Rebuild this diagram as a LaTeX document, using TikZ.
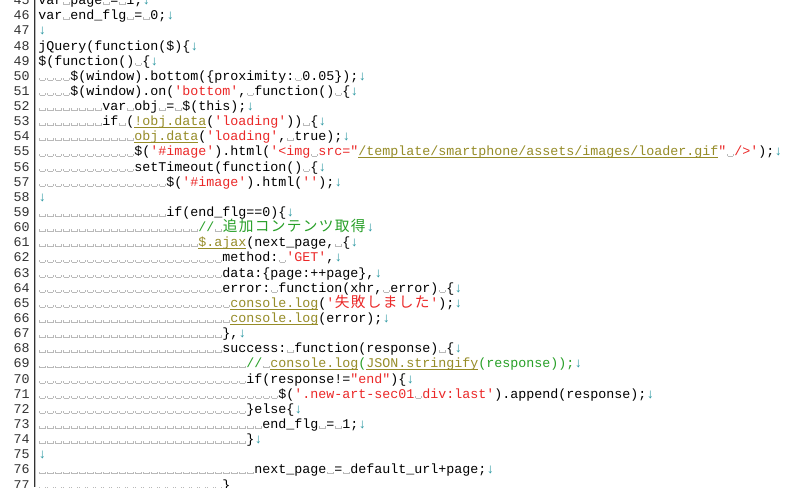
\documentclass[tikz,border=0pt]{standalone}
\usepackage{fontspec}
\newfontfamily\code{Liberation Mono}
\newfontfamily\cjk{Noto Sans CJK JP}
\definecolor{strc}{RGB}{235,40,40}
\definecolor{fnc}{RGB}{150,140,40}
\definecolor{cmc}{RGB}{40,160,40}
\definecolor{nlc}{RGB}{40,150,160}
\definecolor{spcol}{RGB}{185,185,185}
\definecolor{numc}{RGB}{50,50,50}
\newcommand\spc{\makebox[6pt]{\textcolor{spcol}{\rule{0.35pt}{1.8pt}\rule{4pt}{0.35pt}\rule{0.35pt}{1.8pt}}}}
\newcount\spk
\newcommand\spn[1]{\spk=0 \loop\ifnum\spk<#1 \spc\advance\spk 1 \repeat}
\newcommand\nl{\textcolor{nlc}{\makebox[6pt]{↓}}}
\newcommand\st[1]{\textcolor{strc}{#1}}
\newcommand\fn[1]{\textcolor{fnc}{\setbox0\hbox{#1}\rlap{\raisebox{-1.3pt}{\rule{\wd0}{0.45pt}}}\box0}}
\newcommand\cm[1]{\textcolor{cmc}{#1}}
\newcommand\jc[1]{\makebox[12pt]{\cjk\fontsize{11pt}{12pt}\selectfont #1}}
\newcommand\cl[3]{%
  \node[numtxt] (n#1) at (30,{46+(#1-48)*15.14+4}) {#1};
  \node[codetxt] (l#1) at (38,{46+(#1-48)*15.14+4}) {\spn{#2}#3};}
\begin{document}
\begin{tikzpicture}[x=0.75pt,y=-0.75pt,
  codetxt/.style={anchor=base west,inner sep=0pt,font=\code\fontsize{10pt}{12pt}\selectfont},
  numtxt/.style={anchor=base east,inner sep=0pt,text=numc,font=\code\fontsize{10pt}{12pt}\selectfont}]
\useasboundingbox (0,0) rectangle (800,487);
\clip (0,0) rectangle (800,487);
\fill[white] (0,0) rectangle (800,487);
\draw[numc,line width=0.75pt] (34,0) -- (34,487);
\draw[spcol,line width=0.75pt] (35.5,0) -- (35.5,487);
\cl{45}{0}{var\spc page\spc=\spc 1;\nl}
\cl{46}{0}{var\spc end\_flg\spc=\spc 0;\nl}
\cl{47}{0}{\nl}
\cl{48}{0}{jQuery(function(\$)\{\nl}
\cl{49}{0}{\$(function()\spc\{\nl}
\cl{50}{4}{\$(window).bottom(\{proximity:\spc 0.05\});\nl}
\cl{51}{4}{\$(window).on(\st{'bottom'},\spc function()\spc\{\nl}
\cl{52}{8}{var\spc obj\spc=\spc\$(this);\nl}
\cl{53}{8}{if\spc(\fn{!obj.data}(\st{'loading'}))\spc\{\nl}
\cl{54}{12}{\fn{obj.data}(\st{'loading'},\spc true);\nl}
\cl{55}{12}{\$(\st{'\#image'}).html(\st{'<img\spc src="}\fn{/template/smartphone/assets/images/loader.gif}\st{"\spc/>'});\nl}
\cl{56}{12}{setTimeout(function()\spc\{\nl}
\cl{57}{16}{\$(\st{'\#image'}).html(\st{''});\nl}
\cl{58}{0}{\nl}
\cl{59}{16}{if(end\_flg==0)\{\nl}
\cl{60}{20}{\cm{//\spc\jc{追}\jc{加}\jc{コ}\jc{ン}\jc{テ}\jc{ン}\jc{ツ}\jc{取}\jc{得}}\nl}
\cl{61}{20}{\fn{\$.ajax}(next\_page,\spc\{\nl}
\cl{62}{23}{method:\spc\st{'GET'},\nl}
\cl{63}{23}{data:\{page:++page\},\nl}
\cl{64}{23}{error:\spc function(xhr,\spc error)\spc\{\nl}
\cl{65}{24}{\fn{console.log}(\st{'\jc{失}\jc{敗}\jc{し}\jc{ま}\jc{し}\jc{た}'});\nl}
\cl{66}{24}{\fn{console.log}(error);\nl}
\cl{67}{23}{\},\nl}
\cl{68}{23}{success:\spc function(response)\spc\{\nl}
\cl{69}{26}{\cm{//\spc}\fn{console.log}\cm{(}\fn{JSON.stringify}\cm{(response));}\nl}
\cl{70}{26}{if(response!=\st{"end"})\{\nl}
\cl{71}{30}{\$(\st{'.new-art-sec01\spc div:last'}).append(response);\nl}
\cl{72}{26}{\}else\{\nl}
\cl{73}{28}{end\_flg\spc=\spc 1;\nl}
\cl{74}{26}{\}\nl}
\cl{75}{0}{\nl}
\cl{76}{27}{next\_page\spc=\spc default\_url+page;\nl}
\cl{77}{23}{\}}
\end{tikzpicture}
\end{document}
